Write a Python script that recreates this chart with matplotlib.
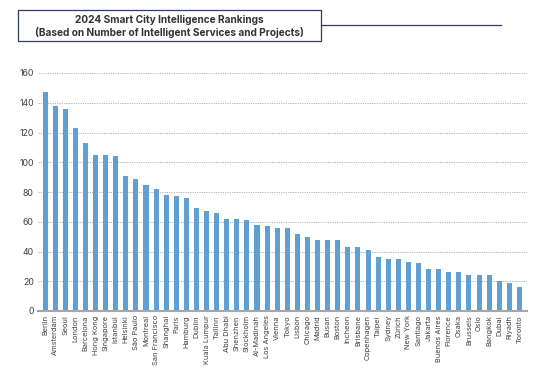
import matplotlib
matplotlib.use("Agg")
import matplotlib.pyplot as plt
from matplotlib.patches import Rectangle
from matplotlib.lines import Line2D

cities = ["Berlin", "Amsterdam", "Seoul", "London", "Barcelona", "Hong Kong", "Singapore",
          "Istanbul", "Helsinki", "São Paulo", "Montreal", "San Francisco", "Shanghai", "Paris",
          "Hamburg", "Dublin", "Kuala Lumpur", "Tallinn", "Abu Dhabi", "Shenzhen", "Stockholm",
          "Al-Madinah", "Los Angeles", "Vienna", "Tokyo", "Lisbon", "Chicago", "Madrid", "Busan",
          "Boston", "Incheon", "Brisbane", "Copenhagen", "Taipei", "Sydney", "Zürich", "New York",
          "Santiago", "Jakarta", "Buenos Aires", "Florence", "Osaka", "Brussels", "Oslo",
          "Bangkok", "Dubai", "Riyadh", "Toronto"]
values = [147, 138, 136, 123, 113, 105, 105, 104, 91, 89, 85, 82, 78, 77, 76, 69, 67,
          66, 62, 62, 61, 58, 57, 56, 56, 52, 50, 48, 48, 48, 43, 43, 41,
          36, 35, 35, 33, 32, 28, 28, 26, 26, 24, 24, 24, 20, 19, 16]
yticks = [0, 20, 40, 60, 80, 100, 120, 140, 160]
title_lines = ["2024 Smart City Intelligence Rankings",
               "(Based on Number of Intelligent Services and Projects)"]

plt.rcParams['font.family'] = ['Inter', 'DejaVu Sans']

W, H = 550, 371
fig = plt.figure(figsize=(W / 100, H / 100), dpi=100)
ax = fig.add_axes([38 / W, 1 - 311 / H, (526.5 - 38) / W, (311 - 73) / H])

x = list(range(len(cities)))
ax.bar(x, values, width=0.5, color="#609fd1", zorder=3)
ax.set_xlim(-0.7, len(cities) - 0.3)
ax.set_ylim(0, 160)
ax.set_yticks(yticks)
ax.set_yticklabels([str(t) for t in yticks], fontsize=6.3, color="#404040")
ax.set_xticks(x)
ax.set_xticklabels(cities, rotation=90, fontsize=5.3, color="#404040")
ax.tick_params(axis='y', length=0, pad=3)
ax.tick_params(axis='x', length=0, pad=3)
ax.grid(axis='y', linestyle=(0, (1.2, 1.2)), color="#b0b0b0", linewidth=0.7, zorder=0)
for s in ["top", "right", "left"]:
    ax.spines[s].set_visible(False)
ax.spines["bottom"].set_color("#a6a6a6")
ax.spines["bottom"].set_linewidth(1.5)
ax.spines["bottom"].set_zorder(4)

# title box
bx0, by0, bx1, by1 = 18, 10, 321, 41
fig.patches.append(Rectangle((bx0 / W, 1 - by1 / H), (bx1 - bx0) / W, (by1 - by0) / H,
                             transform=fig.transFigure, fill=False,
                             edgecolor="#2f3d6b", linewidth=0.9))
fig.lines.append(Line2D([bx1 / W, 501 / W], [1 - 25 / H, 1 - 25 / H],
                        transform=fig.transFigure, color="#2f3d6b", linewidth=0.9))
fig.text((bx0 + bx1) / 2 / W, 1 - 20 / H, title_lines[0], ha='center', va='center',
         fontsize=7.3, fontweight='bold', color="#333333")
fig.text((bx0 + bx1) / 2 / W, 1 - 33 / H, title_lines[1], ha='center', va='center',
         fontsize=7.3, fontweight='bold', color="#333333")

fig.savefig("out.png", dpi=100)
